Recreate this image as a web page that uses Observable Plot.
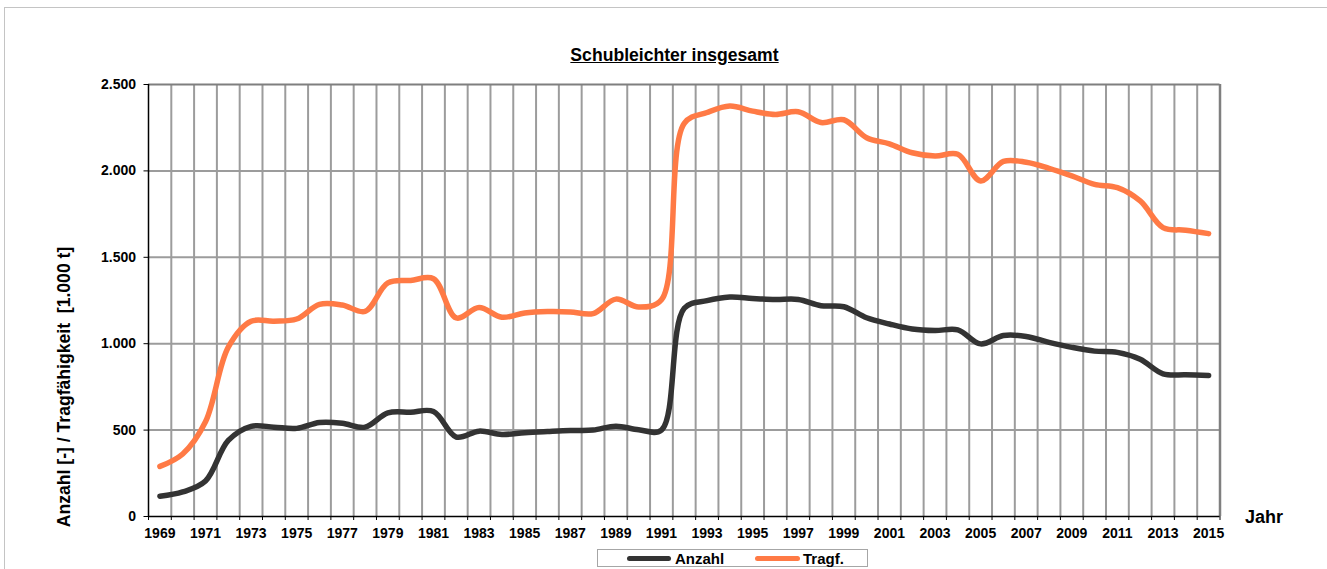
<!DOCTYPE html>
<html>
<head>
<meta charset="utf-8">
<script src="https://cdn.jsdelivr.net/npm/d3@7"></script>
<script src="https://cdn.jsdelivr.net/npm/@observablehq/plot@0.6"></script>
<style>
  html, body { margin: 0; padding: 0; background: #fff; }
  #wrap { position: relative; width: 1327px; height: 569px; overflow: hidden; font-family: "Liberation Sans", Arial, sans-serif; font-weight: bold; color: #000; }
  #border { position: absolute; left: 4px; top: 7px; right: -10px; bottom: -10px; border-left: 1.5px solid #c4c4c4; border-top: 1.5px solid #c4c4c4; }
  .lbl { position: absolute; line-height: 1; white-space: nowrap; }
  #title { left: 674.5px; top: 47.2px; font-size: 17.6px; text-decoration: underline; transform: translateX(-50%); }
  #ylab { left: 65px; top: 386.5px; font-size: 17.6px; transform: translate(-50%, -50%) rotate(-90deg); }
  #jahr { left: 1245px; top: 507.8px; font-size: 18px; }
  #legend { position: absolute; left: 597px; top: 549px; width: 269px; height: 16px; border: 1px solid #a6a6a6; background: #fff; }
  .sw { position: absolute; top: 5.5px; height: 5px; border-radius: 3px; }
  .lt { position: absolute; top: 0.5px; font-size: 15px; line-height: 1; }
  #chart { position: absolute; left: 0; top: 0; }
</style>
</head>
<body>
<div id="wrap">
  <div id="border"></div>
  <div id="chart"></div>
  <div class="lbl" id="title">Schubleichter insgesamt</div>
  <div class="lbl" id="ylab">Anzahl [-] / Tragfähigkeit&nbsp; [1.000 t]</div>
  <div class="lbl" id="jahr">Jahr</div>
  <div id="legend"></div>
</div>
<script>
// ---- Data ----
const years = [1969,1970,1971,1972,1973,1974,1975,1976,1977,1978,1979,1980,1981,1982,1983,1984,1985,1986,1987,1988,1989,1990,1991,1992,1993,1994,1995,1996,1997,1998,1999,2000,2001,2002,2003,2004,2005,2006,2007,2008,2009,2010,2011,2012,2013,2014,2015];
const anzahl = [117,142,205,440,522,517,510,544,540,517,600,604,608,460,494,475,485,492,498,500,523,502,500,1205,1249,1270,1262,1256,1256,1220,1214,1150,1114,1085,1076,1080,999,1047,1042,1008,979,957,950,910,826,820,816];
const tragf  = [290,362,548,980,1130,1130,1143,1228,1224,1187,1352,1366,1376,1149,1210,1153,1178,1186,1184,1174,1258,1212,1254,2275,2338,2375,2346,2327,2342,2280,2296,2192,2157,2105,2086,2096,1942,2055,2050,2015,1971,1922,1903,1826,1672,1657,1637];
const seriesNames = ["Anzahl", "Tragf."];
const seriesColors = ["#333333", "#ff7a45"];
const yTicks = [0, 500, 1000, 1500, 2000, 2500];
const xLabelYears = years.filter((d, i) => i % 2 === 0);

const boundaries = d3.range(years[0] - 0.5, years[years.length - 1] + 1, 1);
const innerBoundaries = boundaries.slice(1, -1);
const rows = [];
years.forEach((y, i) => {
  rows.push({year: y, value: anzahl[i], series: seriesNames[0]});
  rows.push({year: y, value: tragf[i], series: seriesNames[1]});
});
const fmt = d => d3.format(",")(d).replace(/,/g, ".");

const chart = Plot.plot({
  width: 1327,
  height: 569,
  marginLeft: 148,
  marginRight: 107.5,
  marginTop: 84,
  marginBottom: 53,
  style: {background: "transparent", fontFamily: '"Liberation Sans", Arial, sans-serif', fontWeight: "bold", fontSize: "14px", color: "#000", overflow: "visible"},
  x: {type: "linear", domain: [boundaries[0], boundaries[boundaries.length - 1]]},
  y: {domain: [0, 2500]},
  color: {domain: seriesNames, range: seriesColors},
  marks: [
    Plot.ruleY(yTicks.slice(1, -1), {stroke: "#9c9c9c", strokeWidth: 2}),
    Plot.ruleX(innerBoundaries, {y1: 0, y2: 2500, stroke: "#9c9c9c", strokeWidth: 2}),
    Plot.ruleY([2500], {stroke: "#7f7f7f", strokeWidth: 2}),
    Plot.ruleX([boundaries[boundaries.length - 1]], {y1: 0, y2: 2500, stroke: "#7f7f7f", strokeWidth: 2.5}),
    Plot.axisY({ticks: yTicks, tickFormat: fmt, tickSize: 4.5, tickPadding: 8, label: null, stroke: "#000", fontSize: "14px"}),
    Plot.axisX({ticks: boundaries, tickFormat: () => "", tickSize: 4, label: null, stroke: "#000"}),
    Plot.axisX({ticks: xLabelYears, tickFormat: d => String(d), tickSize: 0, tickPadding: 11.5, label: null, fontSize: "14px"}),
    Plot.line(rows, {x: "year", y: "value", z: "series", stroke: "series", strokeWidth: 5.5, curve: "catmull-rom", strokeLinecap: "round", strokeLinejoin: "round"}),
    Plot.ruleX([boundaries[0]], {y1: 0, y2: 2500, stroke: "#000", strokeWidth: 1.5}),
    Plot.ruleY([0], {stroke: "#000", strokeWidth: 1.5})
  ]
});
document.getElementById("chart").appendChild(chart);

// Legend
const legend = document.getElementById("legend");
const legendPos = [{sw: 29, swW: 44, tx: 77}, {sw: 157, swW: 45, tx: 205}];
seriesNames.forEach((name, i) => {
  const sw = document.createElement("div");
  sw.className = "sw";
  sw.style.left = legendPos[i].sw + "px";
  sw.style.width = legendPos[i].swW + "px";
  sw.style.background = seriesColors[i];
  legend.appendChild(sw);
  const t = document.createElement("div");
  t.className = "lt";
  t.style.left = legendPos[i].tx + "px";
  t.textContent = name;
  legend.appendChild(t);
});
</script>
</body>
</html>
